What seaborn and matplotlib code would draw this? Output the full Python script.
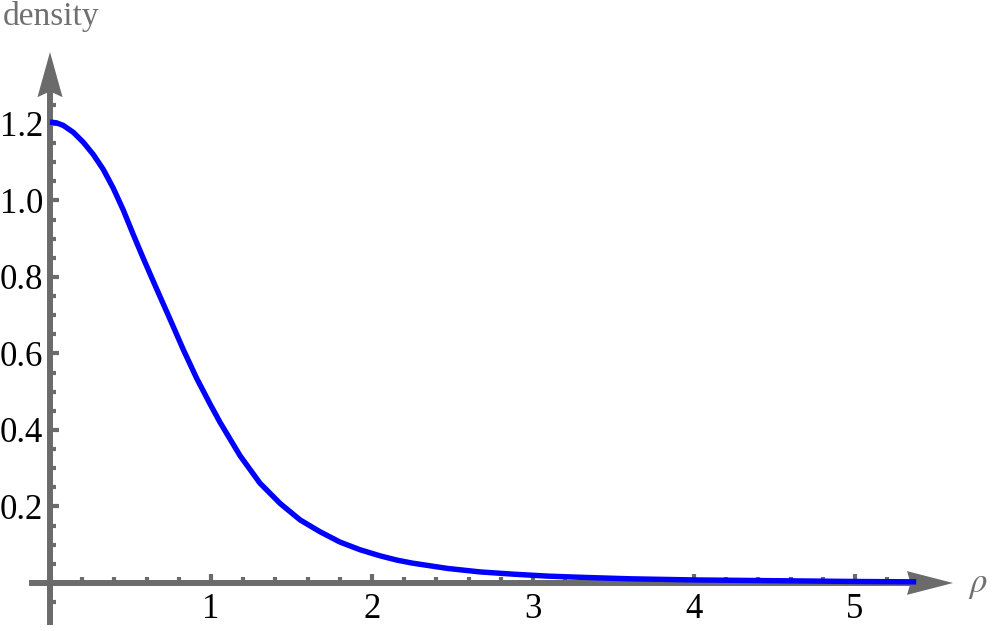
import numpy as np
import matplotlib
matplotlib.use("Agg")
import matplotlib.pyplot as plt
import seaborn as sns
from matplotlib.ticker import FixedLocator, FormatStrFormatter

# curve values
rho = [0.0, 0.04, 0.083, 0.145, 0.207, 0.269, 0.331, 0.393, 0.455, 0.517,
       0.58, 0.663, 0.745, 0.828, 0.911, 0.994, 1.056, 1.18, 1.304, 1.429,
       1.553, 1.677, 1.801, 1.925, 2.05, 2.153, 2.25, 2.47, 2.67, 2.88, 3.09,
       3.29, 3.6, 4.0, 4.5, 5.0, 5.38]
density = [1.205, 1.203, 1.196, 1.178, 1.152, 1.120, 1.081, 1.032, 0.975, 0.911,
           0.848, 0.768, 0.690, 0.610, 0.535, 0.468, 0.420, 0.333, 0.261, 0.208,
           0.165, 0.134, 0.107, 0.087, 0.071, 0.060, 0.052, 0.038, 0.029, 0.023,
           0.018, 0.015, 0.011, 0.008, 0.006, 0.004, 0.003]

x_major = [1, 2, 3, 4, 5]
y_major = [0.2, 0.4, 0.6, 0.8, 1.0, 1.2]

axis_color = "#6b6b6b"

sns.set_style("white")
plt.rcParams["font.family"] = ["Liberation Serif", "DejaVu Serif"]
plt.rcParams["mathtext.fontset"] = "stix"

fig = plt.figure(figsize=(9.97, 6.31), dpi=100)
ax = fig.add_axes([0, 0, 1, 1])

sns.lineplot(x=rho, y=density, color="#0000ff", linewidth=3.9, ax=ax,
             solid_joinstyle="round", solid_capstyle="butt")

ax.set_xlim(-0.3106, 5.882)
ax.set_ylim(-0.1255, 1.524)

# axes through the origin
for side in ["top", "right"]:
    ax.spines[side].set_visible(False)
ax.spines["left"].set_position(("data", 0))
ax.spines["bottom"].set_position(("data", 0))
ax.spines["left"].set_bounds(-0.102, 1.28)
ax.spines["bottom"].set_bounds(-0.112, 5.33)
for side in ["left", "bottom"]:
    ax.spines[side].set_color(axis_color)
    ax.spines[side].set_linewidth(4.3)
    ax.spines[side].set_zorder(1)

# arrow heads
ax.fill([5.609, 5.323, 5.345, 5.323], [0, 0.031, 0, -0.031],
        color=axis_color, lw=0, zorder=1)
ax.fill([0, -0.078, 0, 0.078], [1.388, 1.27, 1.285, 1.27],
        color=axis_color, lw=0, zorder=1)

ax.xaxis.set_major_locator(FixedLocator(x_major))
ax.xaxis.set_minor_locator(FixedLocator(np.arange(0.2, 5.3, 0.2)))
ax.yaxis.set_major_locator(FixedLocator(y_major))
ax.yaxis.set_minor_locator(FixedLocator(np.arange(-0.05, 1.26, 0.05)))
ax.xaxis.set_major_formatter(FormatStrFormatter("%g"))
ax.yaxis.set_major_formatter(FormatStrFormatter("%.1f"))

ax.tick_params(which="both", direction="in", color=axis_color, width=3.0,
               labelsize=25, labelcolor="black", bottom=True, left=True)
ax.tick_params(which="major", length=6.8)
ax.tick_params(which="minor", length=4.4)
ax.tick_params(axis="x", which="major", pad=7)
ax.tick_params(axis="y", which="major", pad=5)

ax.text(0.003, 0.998, "density", transform=ax.transAxes, ha="left", va="top",
        fontsize=24, color="#707070")
ax.text(5.70, -0.005, r"$\rho$", ha="left", va="center", fontsize=25,
        color="#707070")

fig.savefig("out.png", dpi=100)
